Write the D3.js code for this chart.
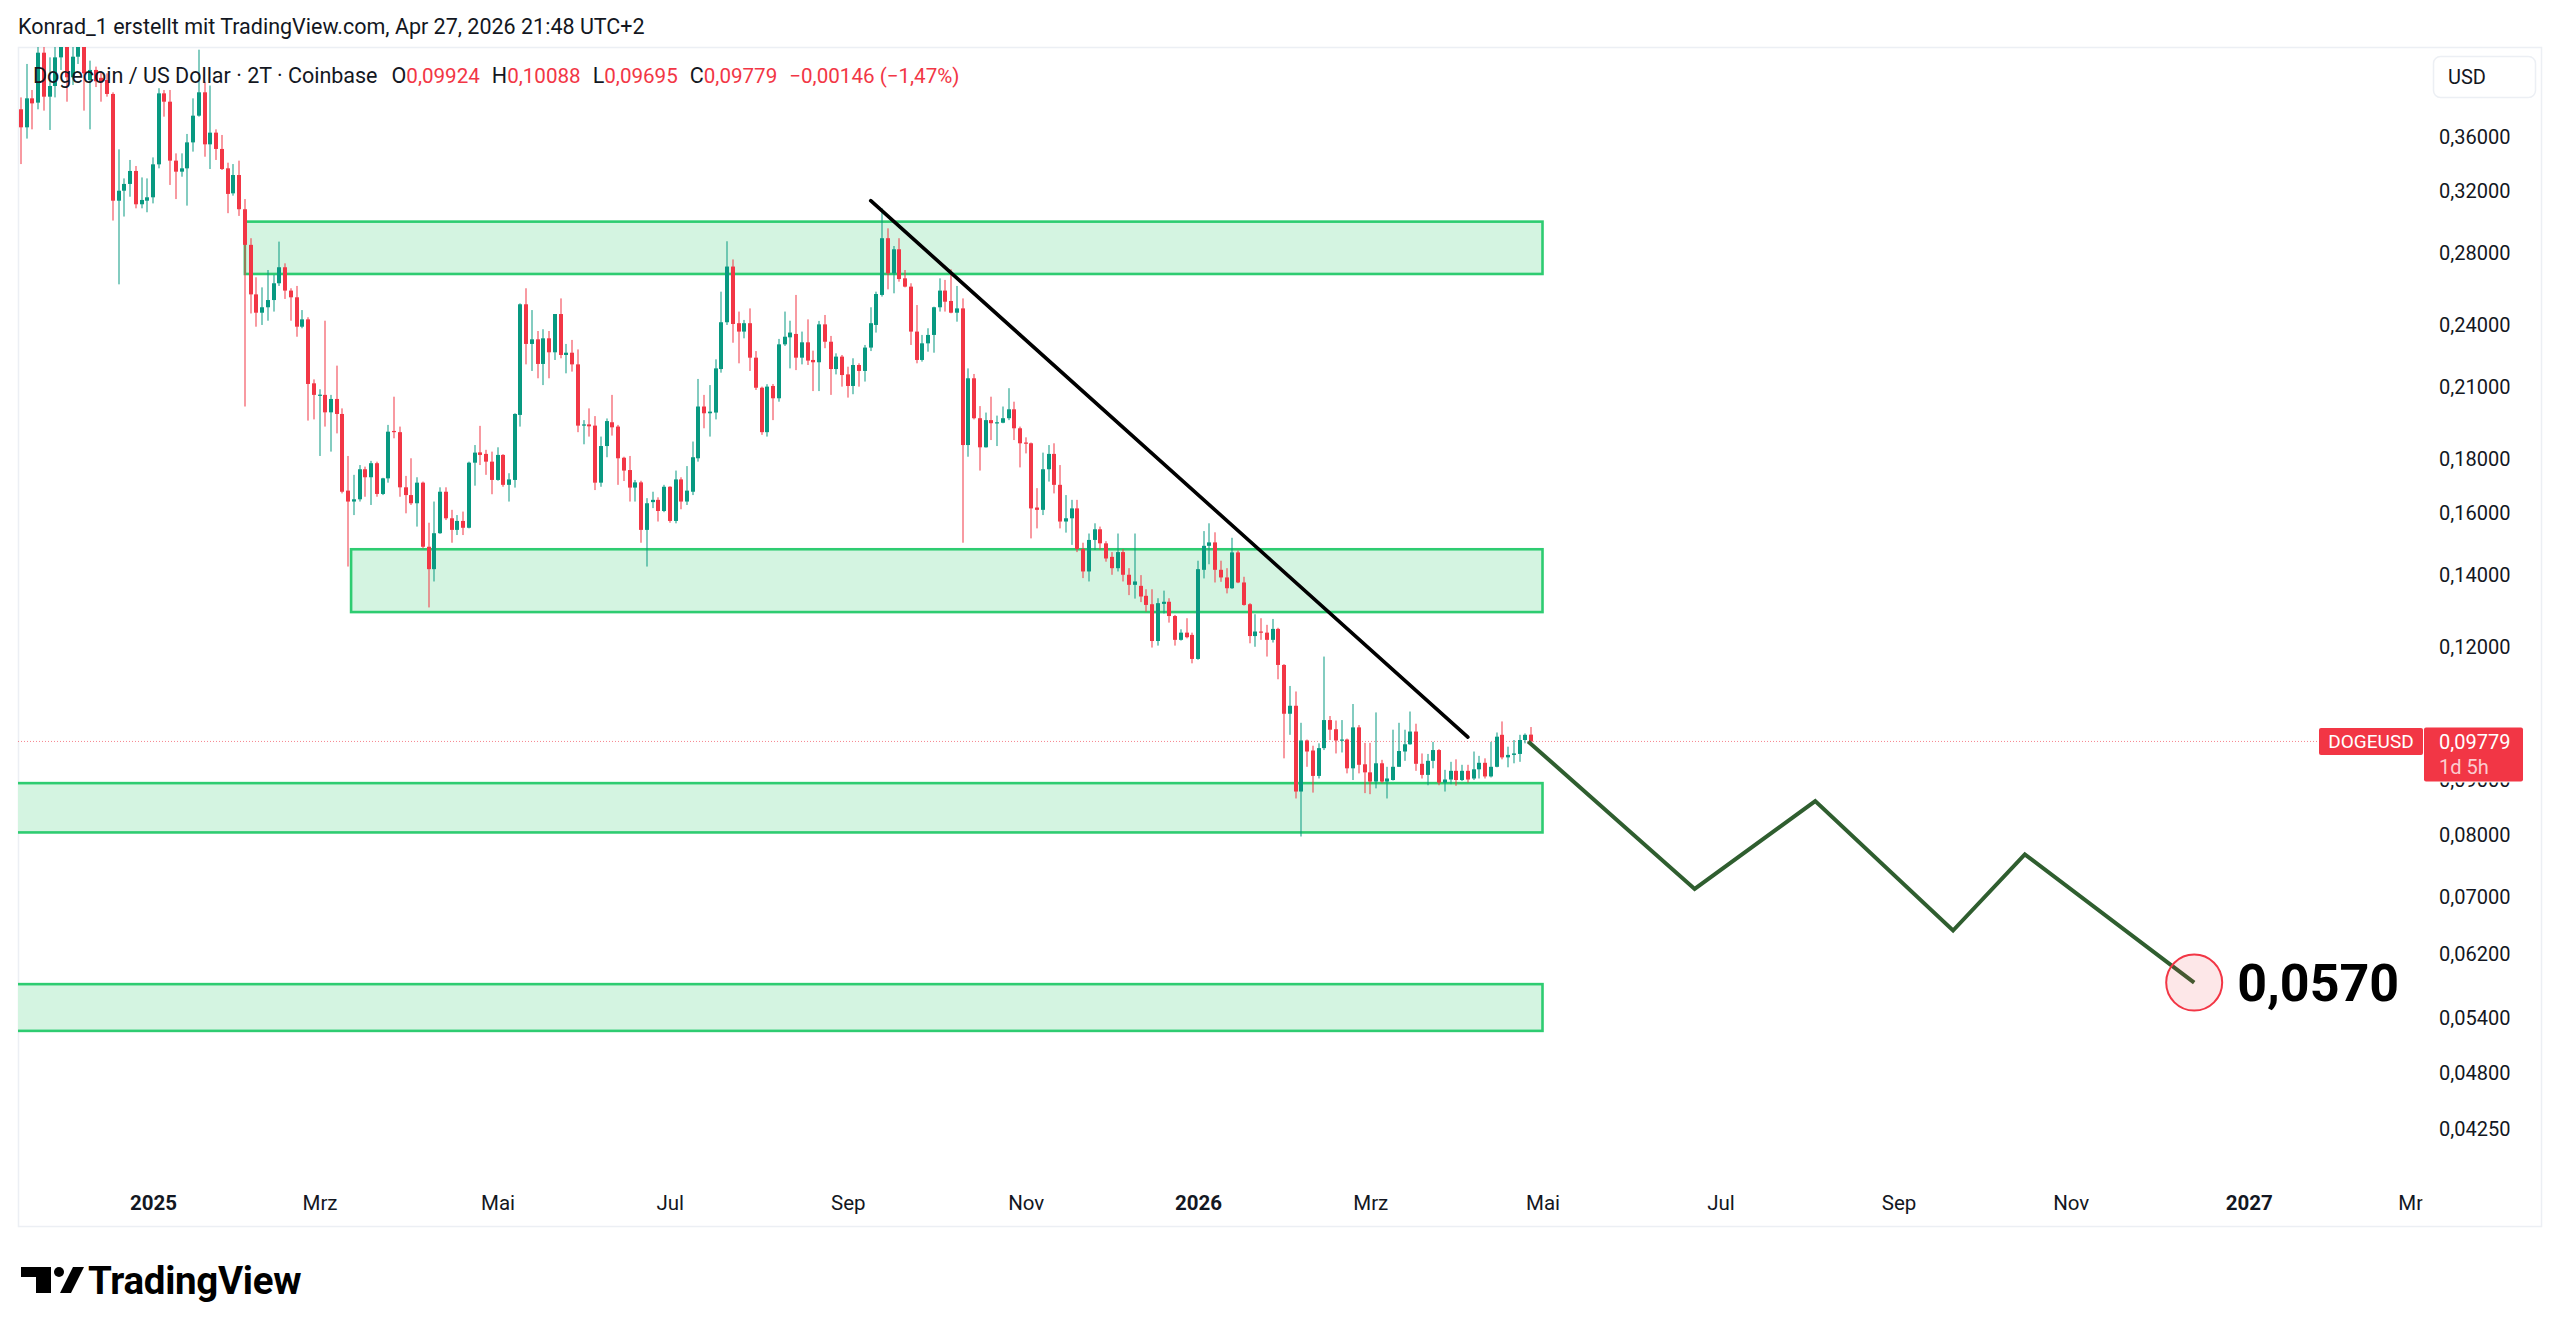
<!DOCTYPE html>
<html><head><meta charset="utf-8">
<script src="https://cdn.jsdelivr.net/npm/d3@7"></script>
<style>html,body{margin:0;padding:0;background:#fff;}svg{display:block;}</style>
</head><body>
<svg id="c" width="2560" height="1334"></svg>
<script>
// ---------- DATA ----------
const firstBarDate = "2024-11-17";   // first 2-day bar (2T)
const barDays = 2;
const opens = [
.3813,.3668,.3904,.3868,.4307,.3918,.4009,.4264,.4450,.4085,
.4270,.4550,.4060,.4150,.4080,.4061,.3941,.3132,.3200,.3247,
.3339,.3108,.3132,.3155,.3387,.3946,.3876,.3414,.3334,.3358,
.3551,.3761,.3955,.3536,.3626,.3501,.3358,.3182,.3310,.3075,
.2848,.2560,.2461,.2490,.2529,.2622,.2714,.2581,.2544,.2388,
.2426,.2114,.2060,.2062,.1986,.2044,.1979,.1678,.1639,.1647,
.1757,.1727,.1780,.1666,.1723,.1908,.1903,.1690,.1662,.1633,
.1707,.1487,.1417,.1531,.1674,.1581,.1542,.1572,.1549,.1782,
.1822,.1816,.1786,.1717,.1812,.1699,.1717,.1975,.2506,.2301,
.2324,.2204,.2329,.2260,.2454,.2247,.2258,.2202,.1930,.1935,
.1930,.1707,.1847,.1944,.1926,.1801,.1754,.1689,.1708,.1542,
.1637,.1645,.1606,.1692,.1572,.1719,.1639,.1674,.1799,.2011,
.1982,.1985,.2180,.2411,.2718,.2406,.2363,.2406,.2234,.2094,
.1903,.2102,.2047,.2299,.2334,.2351,.2234,.2309,.2223,.2212,
.2400,.2312,.2180,.2239,.2155,.2102,.2199,.2171,.2283,.2397,
.2557,.2889,.2679,.2821,.2650,.2603,.2363,.2223,.2304,.2346,
.2490,.2581,.2524,.2461,.2484,.1851,.2137,.1961,.1842,.1953,
.1940,.1942,.1961,.1999,.1919,.1861,.1858,.1618,.1610,.1757,
.1816,.1699,.1570,.1581,.1615,.1480,.1410,.1509,.1544,.1498,
.1455,.1420,.1470,.1400,.1370,.1367,.1338,.1314,.1214,.1315,
.1321,.1281,.1217,.1236,.1230,.1168,.1415,.1490,.1501,.1415,
.1392,.1360,.1469,.1377,.1314,.1227,.1239,.1236,.1217,.1246,
.1153,.1038,.1056,.0878,.0980,.0959,.0908,.0964,.1024,.1004,
.0980,.0982,.0923,.1008,.0931,.0915,.0897,.0933,.0897,.0900,
.0926,.0957,.0972,.0999,.0932,.0910,.0938,.0960,.0895,.0901,
.0918,.0900,.0918,.0903,.0921,.0934,.0907,.0926,.0992,.0945,
.0950,.0952,.0981,.09924];
const highs = [
.3912,.4204,.3975,.4450,.4450,.4264,.4400,.4500,.4650,.4400,
.4800,.4700,.4234,.4180,.4140,.4120,.3955,.3498,.3286,.3419,
.3375,.3293,.3286,.3438,.3990,.3975,.3975,.3468,.3468,.3616,
.3904,.4335,.4046,.4013,.3652,.3608,.3399,.3389,.3414,.3143,
.2889,.2656,.2599,.2698,.2669,.2868,.2737,.2594,.2607,.2475,
.2437,.2132,.2087,.2419,.2062,.2196,.2003,.1808,.1736,.1773,
.1767,.1789,.1786,.1725,.1933,.2054,.1926,.1732,.1799,.1727,
.1711,.1566,.1639,.1690,.1690,.1610,.1592,.1604,.1786,.1851,
.1929,.1832,.1825,.1842,.1815,.1742,.1982,.2511,.2594,.2475,
.2366,.2375,.2366,.2454,.2538,.2301,.2321,.2274,.1953,.2003,
.1970,.1885,.1960,.2062,.1933,.1805,.1808,.1717,.1714,.1651,
.1674,.1654,.1699,.1694,.1752,.1727,.1769,.1865,.2134,.2062,
.2106,.2226,.2575,.2870,.2760,.2467,.2423,.2484,.2266,.2099,
.2110,.2111,.2326,.2467,.2419,.2557,.2363,.2426,.2268,.2418,
.2449,.2341,.2255,.2247,.2191,.2231,.2207,.2296,.2490,.2575,
.3081,.2951,.2841,.2889,.2698,.2622,.2502,.2346,.2380,.2493,
.2650,.2641,.2702,.2607,.2538,.2183,.2157,.2013,.1985,.2054,
.1972,.2011,.2092,.2032,.1926,.1882,.1861,.1687,.1821,.1851,
.1858,.1773,.1662,.1645,.1645,.1500,.1530,.1564,.1553,.1505,
.1470,.1530,.1480,.1420,.1530,.1399,.1357,.1357,.1331,.1353,
.1331,.1284,.1245,.1275,.1236,.1443,.1538,.1564,.1534,.1443,
.1420,.1516,.1475,.1394,.1317,.1286,.1275,.1257,.1273,.1249,
.1155,.1102,.1089,.1018,.0982,.0969,.0974,.1174,.1033,.1023,
.1024,.0984,.1060,.1013,.0975,.0975,.1041,.0940,.0926,.1003,
.1018,.1003,.1043,.1016,.0953,.0952,.0977,.0962,.0920,.0936,
.0941,.0930,.0930,.0957,.0948,.0943,.0977,.0997,.1021,.0967,
.0981,.0992,.0995,.10088];
const lows = [
.3389,.3580,.3652,.3813,.3802,.3647,.3912,.4150,.3876,.4018,
.4204,.3802,.3652,.4000,.3876,.3918,.3001,.2616,.3027,.3159,
.3081,.3081,.3055,.3114,.3358,.3753,.3240,.3143,.3298,.3099,
.3481,.3753,.3443,.3353,.3419,.3346,.3049,.3166,.3031,.2011,
.2457,.2388,.2397,.2419,.2467,.2607,.2535,.2419,.2337,.2380,
.1951,.1956,.1808,.1926,.1825,.1898,.1668,.1425,.1592,.1639,
.1656,.1627,.1656,.1662,.1707,.1878,.1656,.1598,.1627,.1553,
.1482,.1305,.1380,.1529,.1575,.1500,.1525,.1525,.1547,.1696,
.1773,.1736,.1665,.1714,.1692,.1639,.1689,.1926,.2202,.2171,
.2137,.2106,.2137,.2223,.2231,.2160,.2168,.1903,.1854,.1885,
.1680,.1692,.1803,.1889,.1699,.1713,.1639,.1639,.1500,.1425,
.1616,.1570,.1602,.1566,.1564,.1612,.1627,.1662,.1786,.1919,
.1885,.1956,.2163,.2397,.2307,.2207,.2329,.2171,.2084,.1892,
.1885,.1953,.2032,.2291,.2183,.2175,.2202,.2199,.2079,.2079,
.2280,.2062,.2155,.2099,.2050,.2065,.2099,.2122,.2266,.2358,
.2548,.2588,.2566,.2631,.2599,.2296,.2207,.2215,.2263,.2258,
.2467,.2467,.2458,.2414,.1500,.1805,.1956,.1752,.1841,.1871,
.1847,.1940,.1953,.1871,.1764,.1818,.1514,.1547,.1592,.1711,
.1668,.1547,.1533,.1493,.1470,.1390,.1380,.1477,.1478,.1440,
.1400,.1410,.1380,.1340,.1330,.1320,.1293,.1197,.1202,.1288,
.1263,.1202,.1215,.1221,.1157,.1166,.1389,.1432,.1377,.1379,
.1345,.1358,.1375,.1310,.1208,.1199,.1217,.1174,.1210,.1118,
.0943,.0992,.0865,.0797,.0926,.0876,.0903,.0960,.0981,.0953,
.0955,.0913,.0900,.0913,.0875,.0873,.0884,.0894,.0865,.0899,
.0926,.0938,.0971,.0918,.0903,.0890,.0923,.0890,.0878,.0892,
.0889,.0898,.0895,.0900,.0903,.0903,.0905,.0925,.0941,.0925,
.0933,.0936,.0974,.09695];
const closes = [
.3668,.3904,.3862,.4307,.3918,.4009,.4264,.4420,.4085,.4270,
.4550,.4120,.4150,.4050,.4040,.3941,.3132,.3200,.3247,.3339,
.3108,.3137,.3155,.3387,.3946,.3876,.3414,.3334,.3358,.3551,
.3761,.3955,.3536,.3626,.3501,.3353,.3178,.3310,.3075,.2848,
.2560,.2461,.2490,.2529,.2622,.2714,.2581,.2544,.2388,.2426,
.2111,.2062,.2063,.1986,.2044,.1979,.1674,.1639,.1647,.1757,
.1727,.1780,.1666,.1723,.1905,.1903,.1690,.1662,.1633,.1707,
.1487,.1417,.1531,.1674,.1581,.1542,.1572,.1549,.1782,.1821,
.1812,.1786,.1717,.1812,.1699,.1719,.1979,.2506,.2301,.2324,
.2204,.2329,.2260,.2454,.2247,.2258,.2202,.1930,.1935,.1927,
.1707,.1847,.1949,.1923,.1799,.1752,.1689,.1708,.1542,.1633,
.1645,.1606,.1692,.1572,.1719,.1639,.1678,.1803,.2011,.1982,
.1989,.2183,.2411,.2718,.2402,.2363,.2406,.2234,.2094,.1903,
.2099,.2047,.2299,.2337,.2358,.2234,.2309,.2220,.2212,.2400,
.2312,.2180,.2239,.2152,.2102,.2199,.2171,.2283,.2406,.2562,
.2889,.2679,.2821,.2646,.2603,.2363,.2223,.2304,.2346,.2490,
.2581,.2520,.2461,.2484,.1851,.2137,.1961,.1842,.1953,.1940,
.1944,.1961,.1999,.1919,.1858,.1858,.1615,.1610,.1757,.1816,
.1699,.1570,.1581,.1615,.1480,.1410,.1509,.1544,.1498,.1450,
.1420,.1470,.1400,.1370,.1380,.1336,.1312,.1214,.1317,.1321,
.1281,.1217,.1236,.1224,.1168,.1417,.1490,.1501,.1415,.1392,
.1360,.1469,.1377,.1312,.1227,.1239,.1236,.1217,.1246,.1153,
.1038,.1056,.0878,.0980,.0957,.0908,.0964,.1024,.1003,.0980,
.0982,.0923,.1008,.0930,.0915,.0897,.0933,.0897,.0903,.0926,
.0958,.0972,.0999,.0932,.0910,.0938,.0960,.0895,.0901,.0918,
.0900,.0918,.0901,.0921,.0934,.0907,.0926,.0988,.0945,.0950,
.0953,.0981,.0992,.09779];

const yTicks = [0.36,0.32,0.28,0.24,0.21,0.18,0.16,0.14,0.12,0.105,0.09,0.08,0.07,0.062,0.054,0.048,0.0425];
const xTickDates = ["2025-01-02","2025-03-01","2025-05-02","2025-07-01","2025-09-01","2025-11-02","2026-01-01","2026-03-02","2026-05-01","2026-07-02","2026-09-02","2026-11-01","2027-01-02","2027-03-01"];
const xTickLabels = ["2025","Mrz","Mai","Jul","Sep","Nov","2026","Mrz","Mai","Jul","Sep","Nov","2027","Mrz"];
const xTickIsYear = [true,false,false,false,false,false,true,false,false,false,false,false,true,false];

const zoneStart  = ["2025-02-03","2025-03-12","2024-10-01","2024-10-01"];
const zoneEnd    = ["2026-05-01","2026-05-01","2026-05-01","2026-05-01"];
const zoneTop    = [0.2994,0.1479,0.0894,0.0580];
const zoneBottom = [0.2675,0.1292,0.0804,0.05245];

const trendDates  = ["2025-09-09","2026-04-05"];
const trendPrices = [0.3132,0.0987];

const projDates  = ["2026-04-26","2026-06-23","2026-08-04","2026-09-21","2026-10-16","2026-12-14"];
const projPrices = [0.0978,0.0712,0.0860,0.0651,0.0767,0.0582];
const targetLabel = "0,0570";

const symbolName = "DOGEUSD";
const lastPrice = 0.09779;
const countdown = "1d 5h";
const legendTitle = "Dogecoin / US Dollar · 2T · Coinbase";
const legendKeys = ["O","H","L","C"];
const legendVals = [0.09924,0.10088,0.09695,0.09779];
const legendChange = "−0,00146 (−1,47%)";
const headerText = "Konrad_1 erstellt mit TradingView.com, Apr 27, 2026 21:48 UTC+2";
const currency = "USD";

// ---------- DRAW ----------
const UP = "#089981", DOWN = "#f23645", TXT = "#131722";
const FONT = "Roboto, 'Noto Sans', sans-serif";
const parse = d3.utcParse("%Y-%m-%d");
const svg = d3.select("#c");
const plotL = 18, plotR = 2422, plotT = 47, plotB = 1182;

const x = d3.scaleUtc().domain([parse("2025-01-02"), parse("2026-01-01")]).range([153, 1198]);
const y = d3.scaleLog().domain([0.36, 0.0425]).range([136, 1128.6]);
const fmt5 = v => d3.format(".5f")(v).replace(".", ",");
const py = y(lastPrice);

const defs = svg.append("defs");
defs.append("clipPath").attr("id","plotClip").append("rect")
  .attr("x",plotL).attr("y",plotT).attr("width",plotR-plotL).attr("height",plotB-plotT);
defs.append("clipPath").attr("id","xClip").append("rect")
  .attr("x",plotL).attr("y",1180).attr("width",plotR-plotL+0.5).attr("height",45);
defs.append("clipPath").attr("id","yHidClip").append("rect")
  .attr("x",2430).attr("y",py+41).attr("width",120).attr("height",30);

// frame
svg.append("rect").attr("x",18.5).attr("y",47.5).attr("width",2523).attr("height",1179)
  .attr("fill","none").attr("stroke","#eceff4").attr("stroke-width",1.5);

const plot = svg.append("g").attr("clip-path","url(#plotClip)");

// zones
plot.append("g").selectAll("rect").data(zoneTop).join("rect")
  .attr("x",(d,i)=>x(parse(zoneStart[i])))
  .attr("y",(d,i)=>y(zoneTop[i]))
  .attr("width",(d,i)=>x(parse(zoneEnd[i]))-x(parse(zoneStart[i])))
  .attr("height",(d,i)=>y(zoneBottom[i])-y(zoneTop[i]))
  .attr("fill","#d4f4e1").attr("stroke","#2ecc71").attr("stroke-width",2.6);

// last price line
plot.append("line").attr("x1",plotL).attr("x2",plotR)
  .attr("y1",py).attr("y2",py)
  .attr("stroke",DOWN).attr("stroke-opacity",0.6).attr("stroke-width",1).attr("stroke-dasharray","1,2");

// candles
const t0 = parse(firstBarDate);
const bars = opens.map((o,i)=>({t:d3.utcDay.offset(t0,i*barDays),o,h:highs[i],l:lows[i],c:closes[i]}));
const bw = 4;
const cg = plot.append("g");
bars.forEach(b=>{
  const cx = x(b.t);
  const col = b.c >= b.o ? UP : DOWN;
  const left = Math.round(cx - bw/2);
  cg.append("rect").attr("x",left+1.5).attr("width",1)
    .attr("y",y(b.h)).attr("height",Math.max(1,y(b.l)-y(b.h))).attr("fill",col);
  const top = y(Math.max(b.o,b.c)), bot = y(Math.min(b.o,b.c));
  cg.append("rect").attr("x",left).attr("width",bw)
    .attr("y",top).attr("height",Math.max(1.2,bot-top)).attr("fill",col);
});

// trend line
plot.append("line")
  .attr("x1",x(parse(trendDates[0]))).attr("y1",y(trendPrices[0]))
  .attr("x2",x(parse(trendDates[1]))).attr("y2",y(trendPrices[1]))
  .attr("stroke","#000").attr("stroke-width",3.6).attr("stroke-linecap","round");

// projection path + target
const proj = projDates.map((d,i)=>[x(parse(d)), y(projPrices[i])]);
const tgt = proj[proj.length-1];
svg.append("circle").attr("cx",tgt[0]).attr("cy",tgt[1]).attr("r",28)
  .attr("fill","rgba(242,54,69,0.12)").attr("stroke",DOWN).attr("stroke-width",2);
plot.append("path").attr("d",d3.line()(proj)).attr("fill","none")
  .attr("stroke","#2f5e2f").attr("stroke-width",4).attr("stroke-linejoin","miter");
svg.append("text").attr("x",tgt[0]+43).attr("y",tgt[1]).attr("dy","0.36em")
  .attr("font-family",FONT).attr("font-weight",700).attr("font-size",52).attr("fill","#000")
  .text(targetLabel);

// legend
const leg = svg.append("text").attr("x",33).attr("y",83)
  .attr("font-family",FONT).attr("font-size",21.5).attr("fill",TXT);
leg.append("tspan").text(legendTitle);
legendKeys.forEach((k,i)=>{
  leg.append("tspan").attr("dx",i===0?14:12).text(k);
  leg.append("tspan").attr("fill",DOWN).attr("font-size",20.6).text(fmt5(legendVals[i]));
});
leg.append("tspan").attr("dx",12).attr("fill",DOWN).attr("font-size",20.6).text(legendChange);

// y axis
const hidden = yTicks.filter(v=>Math.abs(y(v)-py)<45);
const gy = svg.append("g").attr("transform","translate(2439,0)")
  .call(d3.axisRight(y).tickValues(yTicks.filter(v=>!hidden.includes(v))).tickFormat(fmt5).tickSize(0).tickPadding(0));
gy.select(".domain").remove();
gy.selectAll("text").attr("font-family",FONT).attr("font-size",20).attr("fill",TXT).attr("dy","0.35em");
// tick label partly hidden under the last-price label: only its lower part is visible
svg.append("g").attr("clip-path","url(#yHidClip)").selectAll("text").data(hidden).join("text")
  .attr("x",2439).attr("y",d=>y(d)).attr("dy","0.35em")
  .attr("font-family",FONT).attr("font-size",20).attr("fill",TXT).text(fmt5);

// x axis
const gxWrap = svg.append("g").attr("clip-path","url(#xClip)");
const gx = gxWrap.append("g").attr("transform","translate(0,1203)")
  .call(d3.axisBottom(x).tickValues(xTickDates.map(parse)).tickFormat((d,i)=>xTickLabels[i]).tickSize(0).tickPadding(0));
gx.select(".domain").remove();
gx.selectAll("text").attr("y",0).attr("dy","0.35em").attr("font-family",FONT).attr("font-size",20.5)
  .attr("fill",TXT).attr("font-weight",(d,i)=>xTickIsYear[i]?700:400);

// price labels on the axis
svg.append("rect").attr("x",2319).attr("y",py-13.5).attr("width",104).attr("height",27).attr("rx",2).attr("fill",DOWN);
svg.append("text").attr("x",2371).attr("y",py).attr("dy","0.36em").attr("text-anchor","middle")
  .attr("font-family",FONT).attr("font-size",19).attr("fill","#fff").text(symbolName);
svg.append("rect").attr("x",2424).attr("y",py-14).attr("width",99).attr("height",54).attr("rx",2).attr("fill",DOWN);
svg.append("text").attr("x",2439).attr("y",py).attr("dy","0.36em")
  .attr("font-family",FONT).attr("font-size",20).attr("fill","#fff").text(fmt5(lastPrice));
svg.append("text").attr("x",2439).attr("y",py+25).attr("dy","0.36em")
  .attr("font-family",FONT).attr("font-size",20).attr("fill","rgba(255,255,255,0.75)").text(countdown);

// currency button
svg.append("rect").attr("x",2433.5).attr("y",56.5).attr("width",102).attr("height",41).attr("rx",7)
  .attr("fill","#fff").attr("stroke","#eceff4").attr("stroke-width",1.5);
svg.append("text").attr("x",2448).attr("y",77).attr("dy","0.36em")
  .attr("font-family",FONT).attr("font-size",20).attr("fill",TXT).text(currency);

// header
svg.append("text").attr("x",18).attr("y",26).attr("dy","0.36em")
  .attr("font-family",FONT).attr("font-size",21.5).attr("fill",TXT).text(headerText);

// TradingView logo
const logo = svg.append("g").attr("fill","#000");
logo.append("path").attr("d","M21,1267 H51 V1293 H36 V1277 H21 Z");
logo.append("circle").attr("cx",59).attr("cy",1272).attr("r",5);
logo.append("path").attr("d","M60,1293 H71 L84,1267 H73 Z");
svg.append("text").attr("x",88).attr("y",1294)
  .attr("font-family",FONT).attr("font-weight",700).attr("font-size",38.5).attr("letter-spacing",-0.3)
  .attr("fill","#000").text("TradingView");
</script>
</body></html>
